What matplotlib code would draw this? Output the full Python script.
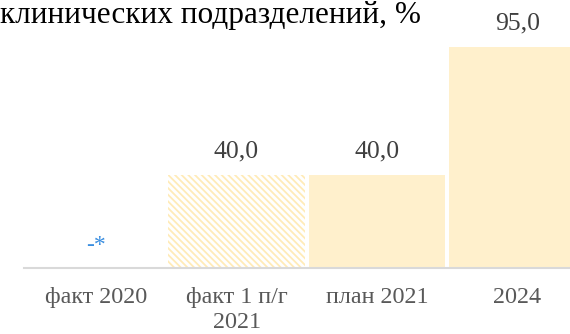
import matplotlib
matplotlib.use("Agg")
import matplotlib.pyplot as plt

plt.rcParams["font.family"] = ["Liberation Serif", "DejaVu Serif"]
plt.rcParams["hatch.linewidth"] = 1.3

categories = ["факт 2020", "факт 1 п/г\n2021", "план 2021", "2024"]
values = [0.0, 40.0, 40.0, 95.0]
value_labels = ["-*", "40,0", "40,0", "95,0"]
hatched = [False, True, False, False]
title = "клинических подразделений, %"

W, H = 570, 334
fig = plt.figure(figsize=(W / 100, H / 100), dpi=100)

# axes in pixel terms: baseline at y=268, category pitch ~140 px starting at x=96
left_px, base_px, pitch = 24, 268, 140.5
ax = fig.add_axes([left_px / W, (H - base_px) / H, (W - left_px) / W, base_px / H])
x = list(range(len(categories)))
ax.set_xlim((left_px - 96) / pitch, (W - 96) / pitch)
ax.set_ylim(0, base_px / 2.325)

fill = "#FFF0CC"
hatch_col = "#FFEBB8"
for xi, v, h in zip(x, values, hatched):
    if h:
        ax.bar(xi, v, width=0.97, color="white", edgecolor=hatch_col,
               hatch="\\" * 5, linewidth=0)
    else:
        ax.bar(xi, v, width=0.97, color=fill, linewidth=0)

for xi, v, lab in zip(x, values, value_labels):
    if v == 0:
        ax.annotate(lab, (xi, v), xytext=(0, 16.5), textcoords="offset points",
                    ha="center", va="center", fontsize=17, color="#3A8EE0")
    else:
        ax.annotate(lab, (xi, v), xytext=(0, 17), textcoords="offset points",
                    ha="center", va="center", fontsize=18.5, color="#404040")

for s in ["top", "right", "left"]:
    ax.spines[s].set_visible(False)
ax.spines["bottom"].set_color("#D9D9D9")
ax.spines["bottom"].set_linewidth(1.5)
ax.set_yticks([])
ax.set_xticks(x)
ax.set_xticklabels(categories, fontsize=17.4, color="#595959", linespacing=1.2)
ax.tick_params(axis="x", length=0, pad=14)

fig.text(0.0, 1 - 15 / H, title, ha="left", va="center", fontsize=22.5,
         color="black")

fig.savefig("out.png", dpi=100)
